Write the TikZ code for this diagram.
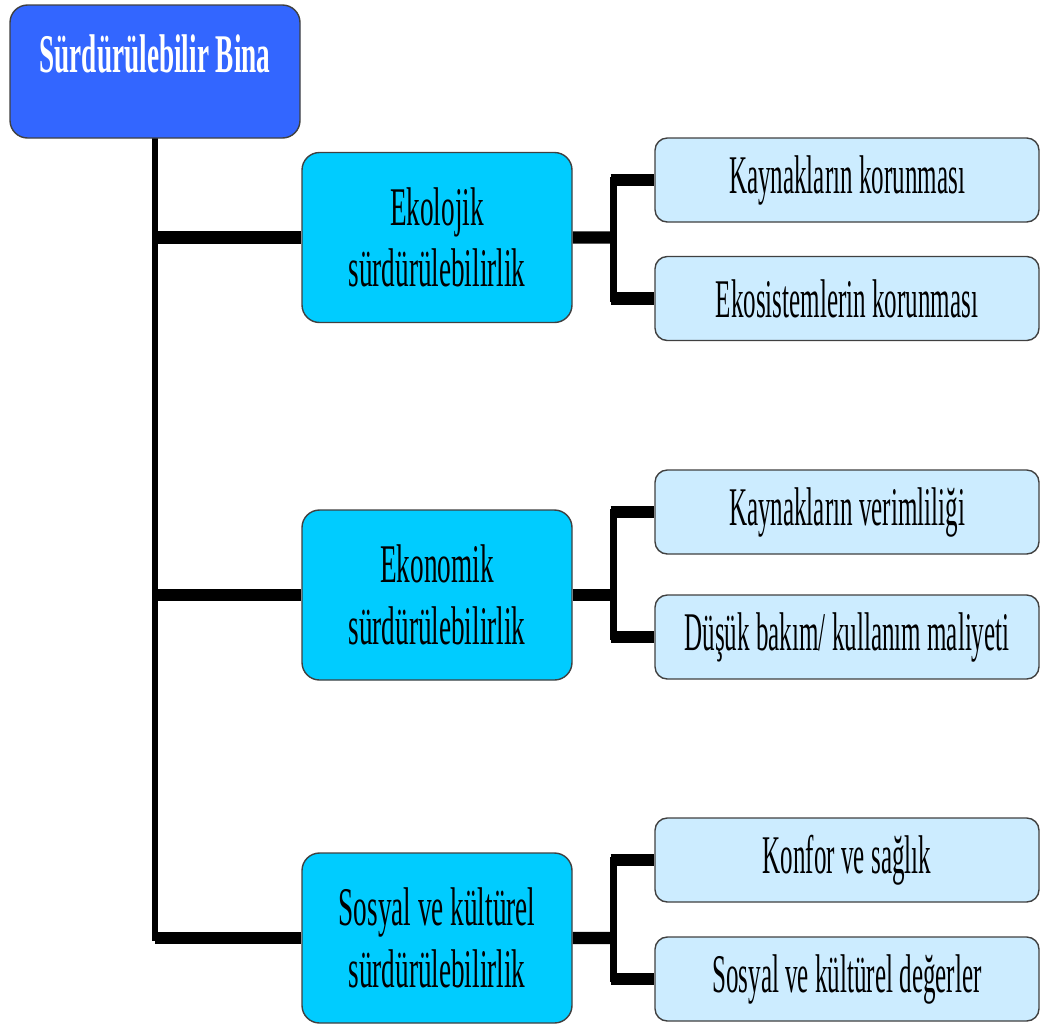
\documentclass[tikz,border=0pt]{standalone}
\usepackage{fontspec}
\setmainfont{Liberation Serif}[FakeStretch=0.46]
\newfontfamily\baslikfont{Liberation Serif}[FakeStretch=0.5]
\usepackage{tikz}
\usetikzlibrary{positioning,calc,backgrounds}
\definecolor{kok}{RGB}{51,102,255}
\definecolor{orta}{RGB}{0,204,255}
\definecolor{yaprak}{RGB}{204,236,255}
\tikzstyle{kutu}=[draw=black!75,line width=0.8pt,align=center,inner sep=0pt]
\tikzstyle{kokkutu}=[kutu,rounded corners=10pt,fill=kok,text=white,minimum width=5.8cm,text height=1.34cm,text depth=1.32cm,font=\baslikfont\bfseries\fontsize{31}{35}\selectfont]
\tikzstyle{ortakutu}=[kutu,rounded corners=10pt,fill=orta,minimum width=5.4cm,minimum height=3.4cm,font=\baslikfont\fontsize{31}{35}\selectfont]
\tikzstyle{yaprakkutu}=[kutu,rounded corners=7pt,fill=yaprak,minimum width=7.68cm,minimum height=1.68cm,font=\fontsize{31}{35}\selectfont]
\tikzstyle{yatay}=[line width=7pt]
\tikzstyle{dikey}=[line width=3.5pt,line cap=rect]

\begin{document}
\begin{tikzpicture}
\useasboundingbox (0,0) rectangle (20.82,-20.46);
\node[kokkutu] (SB) at (3.1,-1.43) {Sürdürülebilir Bina};
\node[ortakutu] (EK) at (8.74,-4.75) {Ekolojik\\sürdürülebilirlik};
\node[ortakutu] (EN) at (8.74,-11.9) {Ekonomik\\sürdürülebilirlik};
\node[ortakutu] (SO) at (8.74,-18.76) {Sosyal ve kültürel\\sürdürülebilirlik};
\node[yaprakkutu] (K1) at (16.94,-3.6) {Kaynakların korunması};
\node[yaprakkutu] (K2) at (16.94,-5.97) {Ekosistemlerin korunması};
\node[yaprakkutu] (K3) at (16.94,-10.24) {Kaynakların verimliliği};
\node[yaprakkutu] (K4) at (16.94,-12.74) {Düşük bakım/ kullanım maliyeti};
\node[yaprakkutu] (K5) at (16.94,-17.2) {Konfor ve sağlık};
\node[yaprakkutu] (K6) at (16.94,-19.58) {Sosyal ve kültürel değerler};
\begin{scope}[on background layer]
\draw[dikey] (SB.south) -- (SB.south |- SO.west);
\foreach \o/\a/\b in {EK/K1/K2,EN/K3/K4,SO/K5/K6} {
  \draw[yatay] (SB.south |- \o.west) -- (\o.west);
  \coordinate (J) at ($(\o.east)!0.5!(\a.west |- \o.east)$);
  \draw[yatay] (\o.east) -- (J);
  \draw[dikey] (J |- \a.west) -- (J |- \b.west);
  \draw[yatay] ($(J |- \a.west)+(-0.06,0)$) -- (\a.west);
  \draw[yatay] ($(J |- \b.west)+(-0.06,0)$) -- (\b.west);
}
\end{scope}
\end{tikzpicture}
\end{document}
